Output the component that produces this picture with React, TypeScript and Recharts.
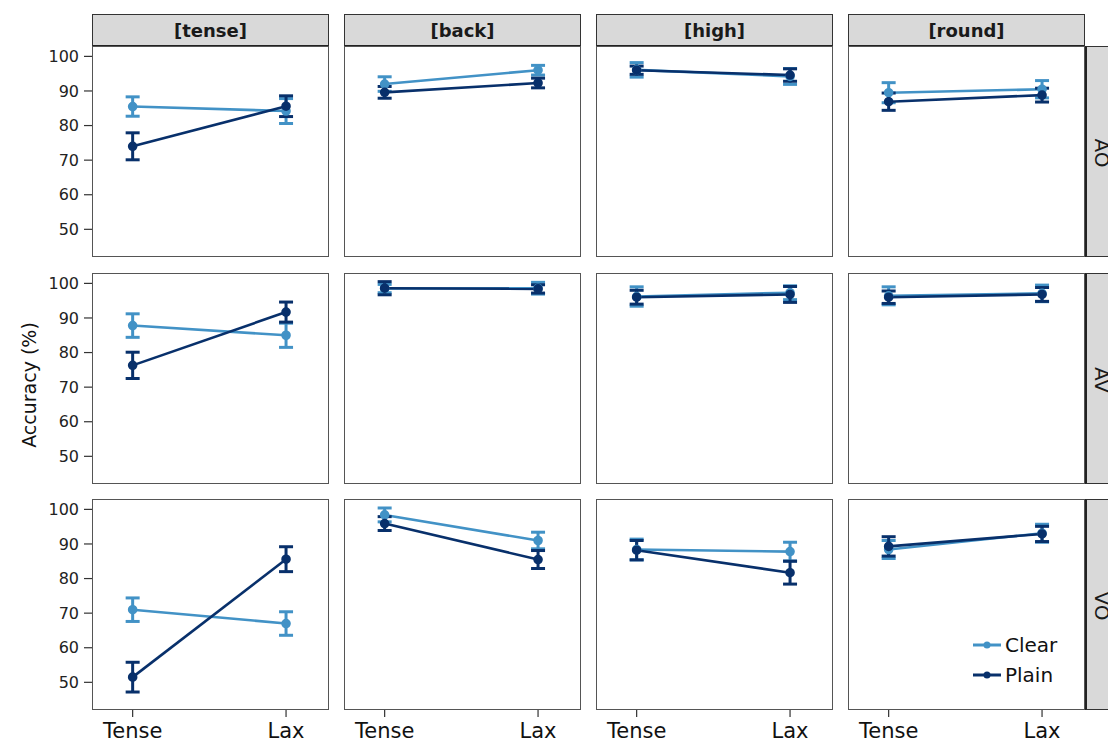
import { ErrorBar, Line, LineChart, XAxis, YAxis } from "recharts";

const features = ["[tense]", "[back]", "[high]", "[round]"];
const modalities = ["AO", "AV", "VO"];
const vowelTypes = ["Tense", "Lax"];
const yTicks = [50, 60, 70, 80, 90, 100];

// each entry: [Tense, Lax] for one feature column
const clearAO = [[85.5, 84.2], [92.0, 96.0], [96.1, 94.2], [89.5, 90.5]];
const clearAOErr = [[2.8, 3.6], [2.1, 1.4], [2.1, 2.3], [2.9, 2.5]];
const plainAO = [[74.0, 85.6], [89.6, 92.3], [96.0, 94.6], [86.9, 88.8]];
const plainAOErr = [[3.9, 3.0], [1.7, 1.4], [1.2, 1.8], [2.5, 2.0]];

const clearAV = [[87.8, 85.0], [98.5, 98.6], [96.2, 97.3], [96.4, 97.1]];
const clearAVErr = [[3.4, 3.5], [1.2, 1.7], [2.8, 2.0], [2.6, 2.4]];
const plainAV = [[76.3, 91.7], [98.6, 98.4], [96.0, 96.8], [96.0, 96.8]];
const plainAVErr = [[3.8, 2.9], [1.9, 1.2], [2.0, 2.3], [1.8, 2.0]];

const clearVO = [[71.0, 67.0], [98.4, 91.0], [88.4, 87.8], [88.4, 93.1]];
const clearVOErr = [[3.4, 3.4], [2.0, 2.4], [3.0, 2.7], [2.6, 2.6]];
const plainVO = [[51.5, 85.6], [95.9, 85.5], [88.2, 81.7], [89.3, 92.9]];
const plainVOErr = [[4.3, 3.6], [2.0, 2.6], [2.8, 3.3], [2.8, 2.2]];

const clearByRow = [clearAO, clearAV, clearVO];
const clearErrByRow = [clearAOErr, clearAVErr, clearVOErr];
const plainByRow = [plainAO, plainAV, plainVO];
const plainErrByRow = [plainAOErr, plainAVErr, plainVOErr];

const CLEAR = "#4292c6";
const PLAIN = "#08306b";

// layout
const colLeft = [92, 344, 596, 848];
const rowTop = [46, 273, 499];
const panelW = 237;
const panelH = 211;
const yAxisW = 60;
const xAxisH = 40;

function Panel({ row, col }: { row: number; col: number }) {
  const showY = col === 0;
  const showX = row === 2;
  const data = vowelTypes.map((_, i) => ({
    x: i,
    clear: clearByRow[row][col][i],
    clearErr: clearErrByRow[row][col][i],
    plain: plainByRow[row][col][i],
    plainErr: plainErrByRow[row][col][i],
  }));

  return (
    <div
      style={{
        position: "absolute",
        left: colLeft[col] - (showY ? yAxisW : 0),
        top: rowTop[row],
      }}
    >
      <LineChart
        width={panelW + (showY ? yAxisW : 0)}
        height={panelH + (showX ? xAxisH : 0)}
        data={data}
        margin={{ top: 0, right: 0, bottom: 0, left: 0 }}
      >
        <XAxis
          type="number"
          dataKey="x"
          domain={[-0.265, 1.28]}
          ticks={[0, 1]}
          interval={0}
          tickFormatter={(v: number) => vowelTypes[v]}
          hide={!showX}
          height={xAxisH}
          axisLine={false}
          tickLine={{ stroke: "#333", strokeWidth: 1.2 }}
          tickSize={7}
          tickMargin={6}
          tick={{ fontSize: 21, fill: "#111" }}
        />
        <YAxis
          type="number"
          domain={[42, 103]}
          ticks={yTicks}
          interval={0}
          hide={!showY}
          width={yAxisW}
          axisLine={false}
          tickLine={{ stroke: "#333", strokeWidth: 1.2 }}
          tickSize={8}
          tickMargin={5}
          tick={{ fontSize: 16, fill: "#222" }}
        />
        <Line
          dataKey="clear"
          stroke={CLEAR}
          strokeWidth={2.6}
          dot={{ r: 3.5, fill: CLEAR, stroke: CLEAR }}
          isAnimationActive={false}
        >
          <ErrorBar dataKey="clearErr" direction="y" width={7} strokeWidth={3} stroke={CLEAR} />
        </Line>
        <Line
          dataKey="plain"
          stroke={PLAIN}
          strokeWidth={2.6}
          dot={{ r: 3.5, fill: PLAIN, stroke: PLAIN }}
          isAnimationActive={false}
        >
          <ErrorBar dataKey="plainErr" direction="y" width={7} strokeWidth={3} stroke={PLAIN} />
        </Line>
      </LineChart>
    </div>
  );
}

export default function App() {
  return (
    <div
      style={{
        position: "absolute",
        left: 0,
        top: 0,
        width: 1108,
        height: 742,
        overflow: "hidden",
        background: "#fff",
        fontFamily: "'DejaVu Sans', sans-serif",
      }}
    >
      {/* top strips */}
      {features.map((f, c) => (
        <div
          key={f}
          style={{
            position: "absolute",
            left: colLeft[c],
            top: 14,
            width: panelW,
            height: 33,
            boxSizing: "border-box",
            background: "#d9d9d9",
            border: "1px solid #333",
            borderBottom: "2px solid #222",
            display: "flex",
            alignItems: "center",
            justifyContent: "center",
            fontSize: 18,
            fontWeight: "bold",
            color: "#1a1a1a",
          }}
        >
          {f}
        </div>
      ))}

      {/* right strips */}
      {modalities.map((m, r) => (
        <div
          key={m}
          style={{
            position: "absolute",
            left: colLeft[3] + panelW,
            top: rowTop[r],
            width: 32,
            height: panelH,
            boxSizing: "border-box",
            background: "#d9d9d9",
            border: "1px solid #333",
            borderLeft: "2px solid #222",
          }}
        >
          <div
            style={{
              position: "absolute",
              left: 15,
              top: panelH / 2,
              transform: "translate(-50%, -50%) rotate(90deg)",
              fontSize: 20,
              color: "#1a1a1a",
              whiteSpace: "nowrap",
            }}
          >
            {m}
          </div>
        </div>
      ))}

      {/* panel borders */}
      {modalities.map((m, r) =>
        features.map((f, c) => (
          <div
            key={`${m}-${f}-border`}
            style={{
              position: "absolute",
              left: colLeft[c],
              top: rowTop[r],
              width: panelW,
              height: panelH,
              boxSizing: "border-box",
              border: "1px solid #555",
            }}
          />
        )),
      )}

      {modalities.map((m, r) =>
        features.map((f, c) => <Panel key={`${m}-${f}`} row={r} col={c} />),
      )}

      {/* y axis title */}
      <div
        style={{
          position: "absolute",
          left: 29,
          top: 385,
          transform: "translate(-50%, -50%) rotate(-90deg)",
          fontSize: 19,
          color: "#111",
          whiteSpace: "nowrap",
        }}
      >
        Accuracy (%)
      </div>

      {/* legend */}
      {[
        { name: "Clear", color: CLEAR, y: 645 },
        { name: "Plain", color: PLAIN, y: 675 },
      ].map((item) => (
        <div
          key={item.name}
          style={{
            position: "absolute",
            left: 972,
            top: item.y - 13,
            height: 26,
            display: "flex",
            alignItems: "center",
            fontSize: 20,
            color: "#111",
          }}
        >
          <svg width={30} height={26}>
            <line x1={1} y1={13} x2={29} y2={13} stroke={item.color} strokeWidth={3} />
            <circle cx={15} cy={13} r={3.5} fill={item.color} />
          </svg>
          <span style={{ marginLeft: 3 }}>{item.name}</span>
        </div>
      ))}
    </div>
  );
}
